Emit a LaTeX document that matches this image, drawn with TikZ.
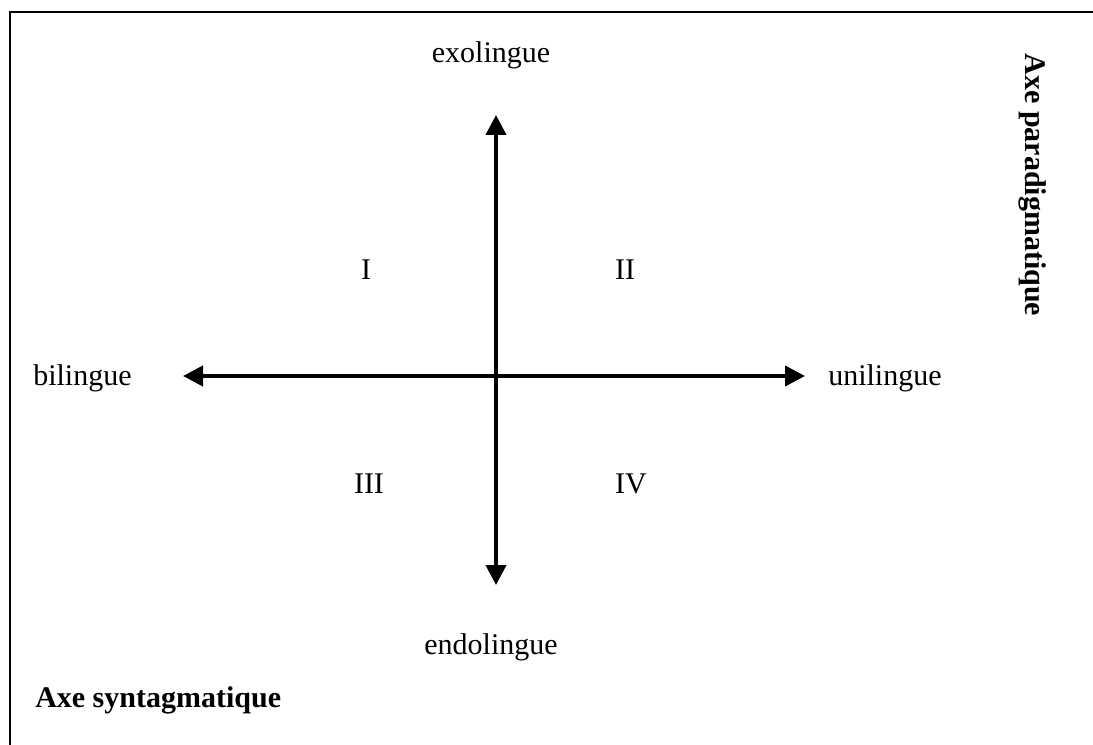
\documentclass[tikz,border=0pt]{standalone}
\usepackage{fontspec}
\setmainfont{Liberation Serif}
\usetikzlibrary{arrows.meta}
\begin{document}
\begin{tikzpicture}[x=0.75pt,y=-0.75pt,
  lbl/.style={inner sep=0pt,font=\fontsize{22.5}{27}\selectfont},
  blbl/.style={inner sep=0pt,font=\fontsize{22.5}{27}\selectfont\bfseries},
  axisarrow/.style={line width=3pt,{Triangle[length=15pt,width=15pt]}-{Triangle[length=15pt,width=15pt]}}]
\useasboundingbox (0,0) rectangle (1093,745);
\fill[white] (0,0) rectangle (1093,745);
\draw[line width=2.2pt] (10,746) -- (10,12) -- (1094,12);
\coordinate (top) at (496,115);
\coordinate (bot) at (496,585);
\coordinate (lft) at (183,376);
\coordinate (rgt) at (805,376);
\draw[axisarrow] (top) -- (bot);
\draw[axisarrow] (lft) -- (rgt);
\node[lbl] (exo) at (491,55) {exolingue};
\node[lbl] (endo) at (491,647) {endolingue};
\node[lbl,anchor=west] (bi) at (33,378) {bilingue};
\node[lbl,anchor=west] (uni) at (828,378) {unilingue};
\node[lbl] (q1) at (366,270) {I};
\node[lbl] (q2) at (625,270) {II};
\node[lbl] (q3) at (369,484) {III};
\node[lbl] (q4) at (631,484) {IV};
\node[blbl,anchor=west] (syn) at (35,700) {Axe syntagmatique};
\node[blbl,rotate=-90] (para) at (1033,185) {Axe paradigmatique};
\end{tikzpicture}
\end{document}
